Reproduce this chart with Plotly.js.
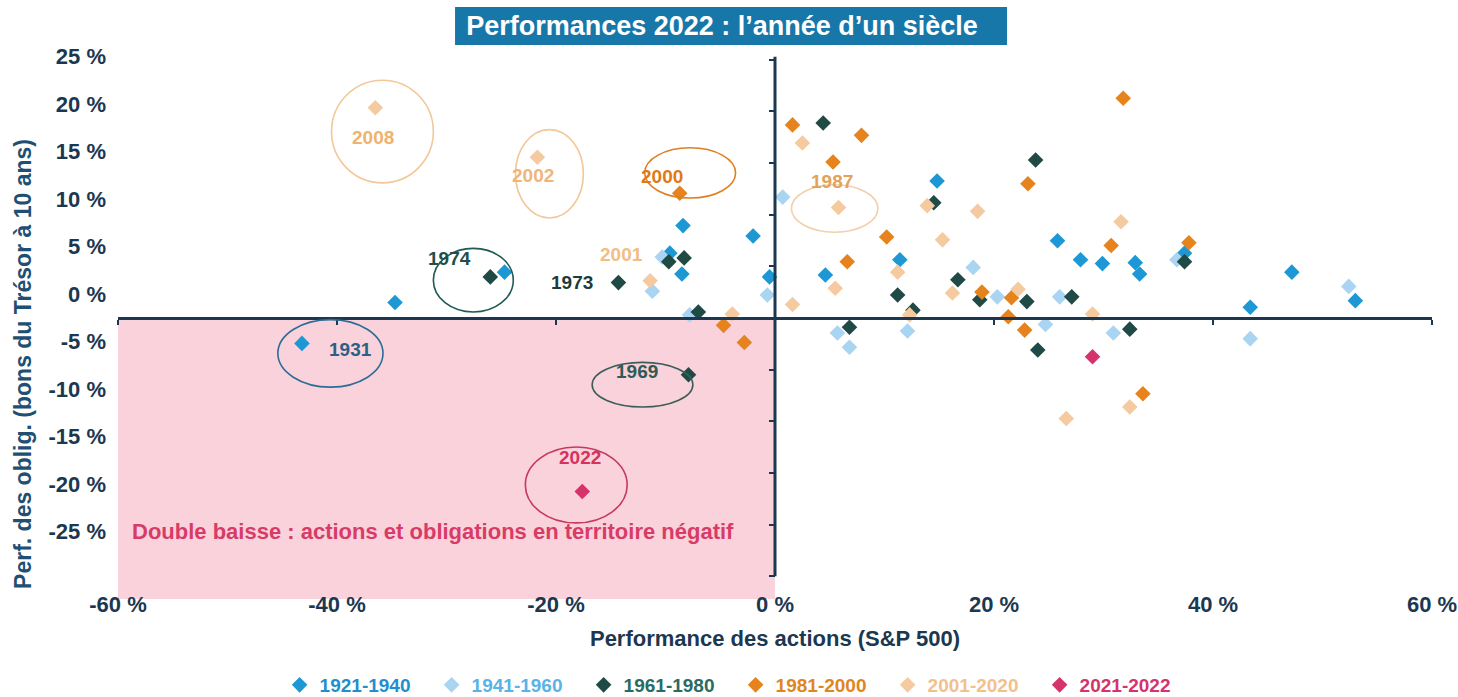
<!DOCTYPE html>
<html>
<head>
<meta charset="utf-8">
<script src="https://cdn.plot.ly/plotly-3.0.1.min.js"></script>
<style>html,body{margin:0;padding:0;background:#fff;}#chart{width:1458px;height:697px;}</style>
</head>
<body>
<div id="chart"></div>
<script>
// ---- Data (S&P 500 performance %, 10y Treasury performance %) ----
const s1921_x = [-43.2, -34.7, -24.7, -8.4, -2.0, -9.6, -8.5, -0.5, 4.6, 11.4, 14.8, 25.8, 27.9, 29.9, 32.9, 33.3, 37.4, 47.2, 53.0, 43.4];
const s1921_y = [-5.2, -0.9, 2.3, 7.2, 6.1, 4.3, 2.1, 1.8, 2.0, 3.6, 11.9, 5.6, 3.6, 3.2, 3.3, 2.1, 4.3, 2.3, -0.7, -1.4];

const s1941_x = [0.7, -10.3, -11.2, -0.7, -7.8, 5.7, 6.8, 12.1, 18.1, 20.3, 26.0, 24.7, 30.9, 36.7, 52.4, 43.4];
const s1941_y = [10.2, 3.9, 0.3, -0.1, -2.2, -4.1, -5.6, -3.9, 2.8, -0.3, -0.3, -3.2, -4.1, 3.6, 0.8, -4.7];

const s1961_x = [-26.0, -14.3, -7.9, -9.7, -8.3, -7.0, 4.4, 6.8, 11.2, 12.6, 14.5, 16.7, 18.7, 23.0, 23.8, 24.0, 27.1, 32.4, 37.4];
const s1961_y = [1.8, 1.2, -8.5, 3.4, 3.8, -1.9, 18.0, -3.5, -0.1, -1.7, 9.6, 1.5, -0.6, -0.8, 14.1, -5.9, -0.3, -3.7, 3.4];

const s1981_x = [-8.7, -4.7, -2.8, 1.6, 5.3, 7.9, 6.6, 10.2, 18.9, 21.6, 21.3, 22.8, 23.1, 30.7, 31.8, 33.6, 37.8];
const s1981_y = [10.6, -3.3, -5.1, 17.8, 13.9, 16.7, 3.4, 6.0, 0.2, -0.4, -2.4, -3.8, 11.6, 5.1, 20.6, -10.5, 5.4];

const s2001_x = [-36.5, -21.7, -11.4, -3.9, 1.6, 2.5, 5.8, 5.5, 11.2, 12.3, 13.9, 15.3, 16.2, 18.5, 22.2, 29.0, 31.6, 32.4, 26.6];
const s2001_y = [19.6, 14.4, 1.4, -2.1, -1.1, 15.9, 9.1, 0.6, 2.3, -2.2, 9.3, 5.7, 0.1, 8.7, 0.5, -2.1, 7.6, -11.9, -13.1];

const s2021_x = [29.0, -17.6];
const s2021_y = [-6.6, -20.8];

const seriesNames = ['1921-1940', '1941-1960', '1961-1980', '1981-2000', '2001-2020', '2021-2022'];

// ---- Tick labels ----
const xTickVals = [-60, -40, -20, 0, 20, 40, 60];
const xTickText = ['-60 %', '-40 %', '-20 %', '0 %', '20 %', '40 %', '60 %'];
const yTickVals = [25, 20, 15, 10, 5, 0, -5, -10, -15, -20, -25];
const yTickText = ['25 %', '20 %', '15 %', '10 %', '5 %', '0 %', '-5 %', '-10 %', '-15 %', '-20 %', '-25 %'];
const axisTickVals = [-25, -20, -15, -10, -5, 0, 5, 10, 15, 20, 25];

// ---- Highlighted years ----
const highlights = [
  {year: '2008', lx: -36.7, ly: 16.5, ex: [-40.5, -31.2], ey: [11.7, 22.5], ec: '#f3c797', tc: '#f0b36e'},
  {year: '2002', lx: -22.1, ly: 12.5, ex: [-23.7, -17.5], ey: [8.0, 17.3], ec: '#f3c797', tc: '#efb57a'},
  {year: '2000', lx: -10.3, ly: 12.4, ex: [-11.9, -3.6], ey: [10.1, 15.4], ec: '#df7f22', tc: '#e07a12'},
  {year: '1987', lx: 5.2, ly: 11.8, ex: [1.5, 9.4], ey: [6.5, 11.5], ec: '#f2d0aa', tc: '#e3a25c'},
  {year: '2001', lx: -14.0, ly: 4.2, tc: '#f2bd85'},
  {year: '1974', lx: -29.7, ly: 3.7, ex: [-31.2, -23.9], ey: [-1.9, 4.8], ec: '#1f5a55', tc: '#1f4f4a'},
  {year: '1973', lx: -18.5, ly: 1.2, tc: '#1e3b3b'},
  {year: '1931', lx: -38.8, ly: -5.8, ex: [-45.4, -35.8], ey: [-9.8, -2.7], ec: '#2c6d96', tc: '#2b5f86'},
  {year: '1969', lx: -12.6, ly: -8.2, ex: [-16.7, -7.5], ey: [-11.9, -7.2], ec: '#3b5e58', tc: '#2f5a55'},
  {year: '2022', lx: -17.8, ly: -17.2, ex: [-22.8, -13.5], ey: [-24.1, -16.1], ec: '#c8385f', tc: '#d4335f'}
];

const FONT = 'Liberation Sans, Arial, sans-serif';
const NAVY = '#1c3850';
const markerColors = ['#1e98d4', '#a9d4f2', '#1f4a45', '#e6831c', '#f6caa0', '#d6336c'];
const legendColors = ['#1f8fd0', '#5ab3e8', '#2a6b63', '#e0861f', '#f3c08c', '#d6336c'];
const xs = [s1921_x, s1941_x, s1961_x, s1981_x, s2001_x, s2021_x];
const ys = [s1921_y, s1941_y, s1961_y, s1981_y, s2001_y, s2021_y];

const traces = seriesNames.map((n, i) => ({
  type: 'scatter', mode: 'markers',
  x: xs[i], y: ys[i],
  name: '<span style="color:' + legendColors[i] + '">' + n + '</span>',
  marker: {symbol: 'diamond', size: 12, color: markerColors[i]},
  xaxis: 'x', yaxis: 'y'
}));
// carrier trace so the crossing axes are drawn
traces.push({type: 'scatter', mode: 'markers', x: [], y: [], xaxis: 'x2', yaxis: 'y2', showlegend: false, hoverinfo: 'skip'});

// pixel geometry: plot area 118..1432 x 55..673
const yLblRange = [-39.9, 25.16];
const yAxRange = [-34.37, 25.46];
const xAxisPos = (0 - yAxRange[0]) / (yAxRange[1] - yAxRange[0]);

const shapes = [
  {type: 'rect', xref: 'x', yref: 'y2', x0: -60, x1: 0, y0: -27.2, y1: 0, fillcolor: '#f9d2dc', line: {width: 0}, layer: 'below'},
  {type: 'line', xref: 'x', yref: 'y2', x0: 0, x1: 0, y0: -25, y1: 25.3, line: {color: NAVY, width: 3}, layer: 'above'},
  {type: 'rect', xref: 'paper', yref: 'paper', x0: 0.2565, x1: 0.6766, y0: 1.0162, y1: 1.0777, fillcolor: '#1877a9', line: {width: 0}}
];
const annotations = [];
highlights.forEach(h => {
  if (h.ex) {
    shapes.push({type: 'circle', xref: 'x', yref: 'y', x0: h.ex[0], x1: h.ex[1], y0: h.ey[0], y1: h.ey[1],
      line: {color: h.ec, width: 1.6}, layer: 'above'});
  }
  annotations.push({xref: 'x', yref: 'y', x: h.lx, y: h.ly, text: h.year, showarrow: false,
    font: {family: FONT, size: 19, color: h.tc, weight: 'bold'}});
});
annotations.push({xref: 'x', yref: 'y', x: -58.9, y: -25.05, xanchor: 'left', showarrow: false,
  text: 'Double baisse : actions et obligations en territoire négatif',
  font: {family: FONT, size: 22, color: '#d83b66', weight: 'bold'}});

const layout = {
  width: 1458, height: 697,
  margin: {l: 118, r: 26, t: 55, b: 24, autoexpand: false},
  paper_bgcolor: '#ffffff', plot_bgcolor: 'rgba(0,0,0,0)',
  title: {text: 'Performances 2022 : l’année d’un siècle', x: 0.4952, xref: 'container', xanchor: 'center',
    y: 0.9627, yref: 'container', yanchor: 'middle', font: {family: FONT, size: 27, color: '#ffffff', weight: 'bold'}},
  xaxis: {range: [-60, 60], anchor: 'free', position: 0.136, tickmode: 'array', tickvals: xTickVals, ticktext: xTickText,
    showgrid: false, zeroline: false, showline: false, ticks: '',
    tickfont: {family: FONT, size: 22, color: NAVY, weight: 'bold'},
    title: {text: 'Performance des actions (S&P 500)', standoff: 14, font: {family: FONT, size: 22, color: NAVY, weight: 'bold'}}},
  yaxis: {range: yLblRange, tickmode: 'array', tickvals: yTickVals, ticktext: yTickText,
    showgrid: false, zeroline: false, showline: false, ticks: '', ticklabelstandoff: 11,
    tickfont: {family: FONT, size: 22, color: NAVY, weight: 'bold'},
    title: {text: 'Perf. des oblig. (bons du Trésor à 10 ans)', standoff: 10, font: {family: FONT, size: 23, color: '#1f5073', weight: 'bold'}}},
  xaxis2: {range: [-60, 60], overlaying: 'x', anchor: 'free', position: xAxisPos, showline: true, linecolor: NAVY, linewidth: 3,
    ticks: 'outside', ticklen: 5, tickwidth: 2, tickcolor: NAVY, tickmode: 'array', tickvals: xTickVals,
    showticklabels: false, showgrid: false, zeroline: false},
  yaxis2: {range: yAxRange, overlaying: 'y', anchor: 'free', position: 0.5, showline: false,
    ticks: 'outside', ticklen: 6, tickwidth: 2, tickcolor: NAVY, tickmode: 'array', tickvals: axisTickVals,
    showticklabels: false, showgrid: false, zeroline: false},
  showlegend: true,
  legend: {orientation: 'h', x: 0.123, xanchor: 'left', y: -0.0194, yanchor: 'middle',
    entrywidth: 107, entrywidthmode: 'pixels', font: {family: FONT, size: 19, color: NAVY, weight: 'bold'},
    bgcolor: 'rgba(0,0,0,0)', itemclick: false},
  shapes: shapes,
  annotations: annotations
};

Plotly.newPlot('chart', traces, layout, {displayModeBar: false, staticPlot: true});
</script>
</body>
</html>
